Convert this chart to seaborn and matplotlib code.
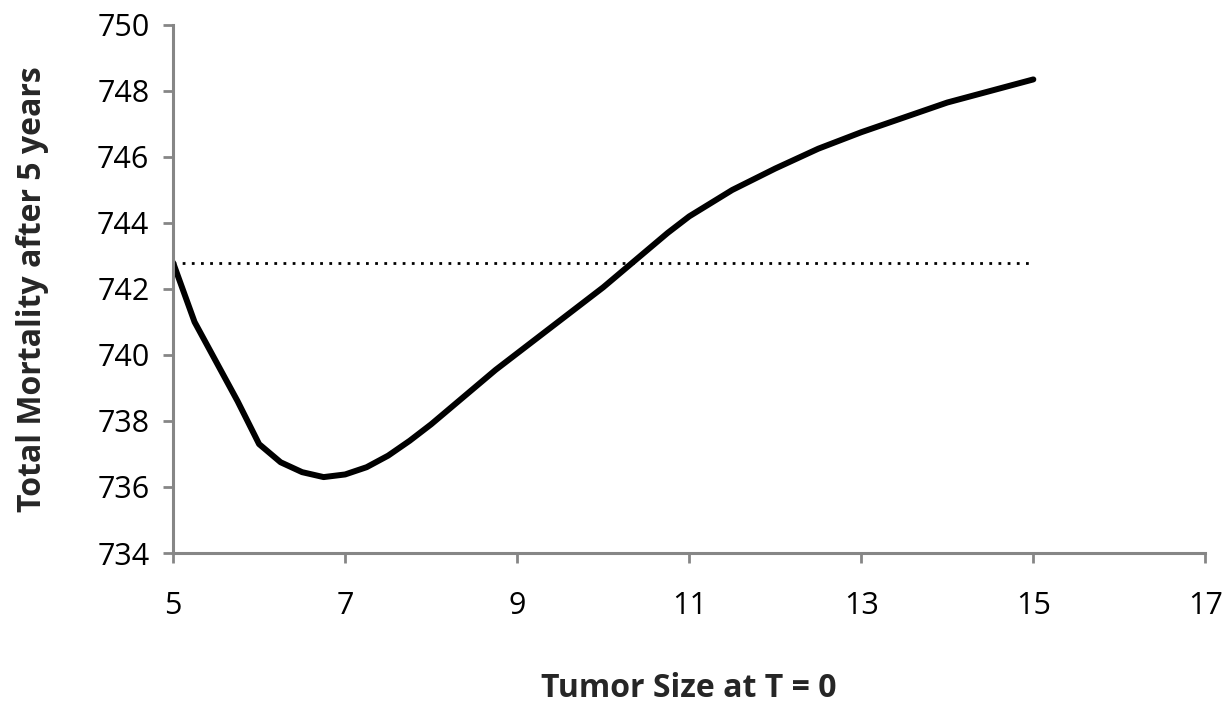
import numpy as np
import pandas as pd
import seaborn as sns
import matplotlib.pyplot as plt

# tumor size at T=0 and total mortality after 5 years
tumor_size = [5, 5.25, 5.5, 5.75, 6, 6.25, 6.5, 6.75, 7, 7.25, 7.5, 7.75, 8,
              8.25, 8.5, 8.75, 9, 9.25, 9.5, 9.75, 10, 10.25, 10.5, 10.75, 11,
              11.5, 12, 12.5, 13, 13.5, 14, 14.5, 15]
mortality = [742.8, 741.0, 739.8, 738.6, 737.3, 736.75, 736.45, 736.3, 736.38,
             736.6, 736.95, 737.4, 737.9, 738.45, 739.0, 739.55, 740.05, 740.55,
             741.05, 741.55, 742.05, 742.6, 743.15, 743.7, 744.2, 745.0, 745.65,
             746.25, 746.75, 747.2, 747.65, 748.0, 748.35]
baseline_x = [5, 15]
baseline_y = [742.8, 742.8]

xticks = [5, 7, 9, 11, 13, 15, 17]
yticks = [734, 736, 738, 740, 742, 744, 746, 748, 750]

df = pd.DataFrame({"size": tumor_size, "mort": mortality})
base = pd.DataFrame({"size": baseline_x, "mort": baseline_y})

sns.set_style("white")
plt.rcParams["font.family"] = ["Open Sans", "DejaVu Sans"]

fig = plt.figure(figsize=(12.3, 7.05), dpi=100)
ax = fig.add_axes([0.1407, 0.2156, 0.8393, 0.749])

sns.lineplot(data=base, x="size", y="mort", ax=ax, color="black",
             linewidth=2, linestyle=(0, (1, 2.3)))
sns.lineplot(data=df, x="size", y="mort", ax=ax, color="black",
             linewidth=4.3, solid_capstyle="round", solid_joinstyle="round")

ax.set_xlim(5, 17)
ax.set_ylim(734, 750)
ax.set_xticks(xticks)
ax.set_yticks(yticks)

gray = "#868686"
for s in ["top", "right"]:
    ax.spines[s].set_visible(False)
for s in ["left", "bottom"]:
    ax.spines[s].set_color(gray)
    ax.spines[s].set_linewidth(2.2)
ax.tick_params(axis="both", direction="out", length=7, width=2, color=gray,
               labelsize=22, labelcolor="black", bottom=True, left=True)
ax.tick_params(axis="y", pad=10)
ax.tick_params(axis="x", pad=20)

ax.set_xlabel("Tumor Size at T = 0", fontsize=23, fontweight="bold")
ax.set_ylabel("Total Mortality after 5 years", fontsize=23, fontweight="bold")
ax.xaxis.set_label_coords(0.5, -0.225)
ax.yaxis.set_label_coords(-0.12, 0.5)

fig.savefig("out.png", dpi=100)
